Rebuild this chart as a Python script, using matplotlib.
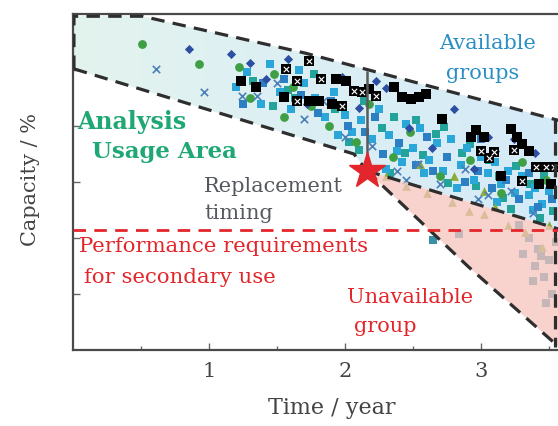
import numpy as np
import matplotlib.pyplot as plt
from matplotlib.patches import Polygon

# ---------------- data (time in years, capacity in %) ----------------
cyan_sq_x = [1.20, 1.28, 1.38, 1.45, 1.52, 1.60, 1.70, 1.78, 1.85, 1.92, 2.00, 2.05, 2.12, 2.20, 2.25,
             2.32, 2.38, 2.45, 2.50, 2.55, 2.62, 2.68, 2.72, 2.78, 2.85, 2.90, 2.95, 3.00, 3.05, 3.10,
             3.15, 3.20, 3.25, 3.30, 3.35, 3.40, 3.45, 3.50, 2.30, 2.58, 2.82, 3.12, 3.38, 1.66, 1.95, 2.42]
cyan_sq_y = [93.5, 94.8, 92.0, 95.5, 93.0, 91.5, 93.8, 92.5, 90.8, 93.0, 91.0, 89.5, 90.5, 88.8, 91.5,
             89.2, 87.8, 90.2, 88.0, 89.8, 87.0, 88.5, 86.0, 88.8, 86.5, 88.0, 85.2, 87.2, 85.8, 86.8,
             84.8, 86.0, 84.0, 85.5, 83.8, 84.5, 83.0, 84.2, 86.2, 85.8, 84.5, 83.2, 82.5, 95.0, 89.2, 86.8]

blue_sq_x = [1.25, 1.40, 1.55, 1.68, 1.80, 1.90, 2.02, 2.15, 2.28, 2.40, 2.52, 2.65, 2.75, 2.88, 2.98,
             3.08, 3.18, 3.28, 3.42, 3.52, 2.22, 2.60, 3.00, 3.35]
blue_sq_y = [92.0, 93.8, 94.2, 92.8, 91.2, 92.2, 90.0, 89.5, 87.5, 88.5, 86.5, 86.0, 87.2, 85.0, 86.0,
             84.5, 85.2, 83.5, 82.8, 83.5, 90.8, 89.0, 88.8, 85.8]

teal_x = [1.32, 1.47, 1.63, 1.77, 1.93, 2.03, 2.14, 2.27, 2.36, 2.44, 2.57, 2.67, 2.76, 2.86, 2.96,
          3.06, 3.16, 3.26, 3.36, 3.46, 3.53, 2.10, 2.52, 2.92, 3.22, 1.58, 2.33, 2.73, 3.13, 3.43]
teal_y = [94.0, 91.8, 92.5, 94.6, 91.5, 88.6, 92.2, 89.8, 90.8, 87.6, 87.4, 89.3, 84.9, 87.6, 84.6,
          87.0, 83.6, 86.4, 84.8, 85.6, 82.4, 87.9, 90.5, 88.4, 82.6, 93.2, 85.8, 89.9, 85.5, 81.8]

green_x = [0.51, 0.93, 1.22, 1.30, 1.48, 1.62, 1.75, 1.88, 2.08, 2.35, 2.48, 2.70, 2.92, 3.15, 3.30, 3.48,
           1.55, 2.18]
green_y = [97.3, 95.5, 95.3, 92.5, 94.6, 93.5, 91.8, 90.0, 88.6, 87.2, 89.5, 85.5, 87.0, 84.0, 86.8, 85.2,
           90.8, 92.0]

diamond_x = [0.85, 1.16, 1.30, 1.42, 1.58, 1.72, 1.98, 2.10, 2.23, 2.47, 2.64, 2.80, 2.95, 3.10, 3.24,
             3.40, 2.30, 3.05]
diamond_y = [96.9, 96.4, 95.6, 94.2, 96.0, 92.0, 94.4, 91.6, 94.0, 89.8, 88.0, 91.5, 86.2, 87.8, 88.8,
             87.6, 93.4, 89.0]

cross_x = [0.61, 0.96, 1.24, 1.35, 1.50, 1.70, 1.84, 2.00, 2.20, 2.38, 2.54, 2.70, 2.88, 3.05, 3.22,
           3.38, 2.45, 2.98]
cross_y = [95.1, 93.0, 92.7, 92.7, 93.8, 90.6, 92.2, 89.0, 88.2, 86.0, 86.6, 84.8, 86.2, 83.8, 84.2,
           82.2, 85.2, 83.5]

tri_x = [2.30, 2.45, 2.60, 2.79, 2.91, 3.02, 3.10, 3.20, 3.32, 3.45, 2.55, 2.80, 3.02, 3.50]
tri_y = [85.5, 84.6, 84.0, 83.2, 82.4, 82.1, 82.8, 81.2, 80.5, 79.2, 86.6, 85.5, 84.2, 81.2]

faded_x = [3.35, 3.42, 3.50, 3.28, 3.46, 3.52, 3.40, 3.31, 3.55, 2.84, 3.38, 3.48, 3.44, 2.65]
faded_y = [80.0, 79.0, 78.0, 81.2, 76.5, 75.0, 77.5, 78.6, 79.6, 80.4, 76.2, 74.2, 78.4, 79.8]

black_x = [1.235, 1.346, 1.551, 1.735, 1.809, 1.934, 2.007, 2.176, 2.360, 2.419, 2.485, 2.544, 2.596,
           1.904, 2.713, 2.963, 2.926, 3.022, 3.221, 3.265, 3.301, 3.353, 3.147, 3.426, 3.515]
black_y = [94.0, 93.5, 92.6, 92.2, 92.2, 94.2, 94.0, 93.3, 93.5, 92.6, 92.4, 92.6, 92.9,
           92.0, 90.6, 89.6, 89.0, 89.0, 89.7, 89.0, 88.4, 87.8, 85.5, 84.8, 84.8]

boxed_x = [1.566, 1.647, 1.735, 1.824, 1.647, 2.066, 2.125, 2.228, 1.978, 3.000, 3.096, 3.059, 3.243,
           3.301, 3.404, 3.478, 3.537]
boxed_y = [95.1, 94.0, 95.8, 94.2, 92.2, 93.1, 93.0, 92.7, 91.8, 87.8, 87.7, 87.1, 87.9,
           85.1, 86.3, 86.3, 86.3]

# region outlines
band_x = [0.0, 0.51, 1.71, 3.57, 3.57, 2.16, 2.066, 0.0]
band_y = [99.8, 99.8, 96.5, 90.5, 80.8, 86.0, 87.5, 95.1]
pink_x = [2.16, 3.57, 3.57, 2.91]
pink_y = [86.0, 80.8, 70.3, 77.4]

requirement = 80.7
replace_t, replace_cap = 2.16, 86.0

# ---------------- figure ----------------
fig = plt.figure(figsize=(5.58, 4.27), dpi=100)
ax = fig.add_axes([73 / 558, 76 / 427, 485 / 558, 336 / 427])
ax.set_xlim(0, 3.566)
ax.set_ylim(70, 100)

serif = "DejaVu Serif"

# band fill with a soft mint-to-blue gradient
band = Polygon(np.column_stack([band_x, band_y]), closed=True, facecolor="none", edgecolor="none")
ax.add_patch(band)
t = np.linspace(0, 1, 256)
c0 = np.array([0.89, 0.955, 0.935])
c1 = np.array([0.835, 0.918, 0.972])
grad = (c0[None, :] * (1 - t[:, None]) + c1[None, :] * t[:, None])[None, :, :]
im = ax.imshow(grad, extent=[0, 3.57, 70, 100], aspect="auto", zorder=0.5, origin="lower")
im.set_clip_path(band)

# scatter groups
ms = 40
ax.scatter(faded_x, faded_y, marker="s", s=ms, c="#3a8fa6", zorder=2, linewidths=0)
ax.scatter(teal_x, teal_y, marker="s", s=ms, c="#24a39a", zorder=2, linewidths=0)
ax.scatter(cyan_sq_x, cyan_sq_y, marker="s", s=ms, c="#2aa6d8", zorder=2, linewidths=0)
ax.scatter(blue_sq_x, blue_sq_y, marker="s", s=ms, c="#2b7fc2", zorder=2, linewidths=0)
ax.scatter(green_x, green_y, marker="o", s=ms, c="#3f9f45", zorder=2, linewidths=0)
ax.scatter(tri_x, tri_y, marker="^", s=ms, c="#8eaa3c", zorder=2, linewidths=0)
ax.scatter(diamond_x, diamond_y, marker="D", s=22, c="#2d4fa2", zorder=2.1, linewidths=0)
ax.scatter(cross_x, cross_y, marker="x", s=28, c="#4a7fb8", zorder=2.1, linewidths=1.2)
ax.scatter(black_x, black_y, marker="s", s=48, c="black", zorder=2.2, linewidths=0)
ax.scatter(boxed_x, boxed_y, marker="s", s=48, c="black", zorder=2.2, linewidths=0)
ax.scatter(boxed_x, boxed_y, marker="x", s=15, c="white", zorder=2.3, linewidths=0.8)

# unavailable region drawn over the points
pink = Polygon(np.column_stack([pink_x, pink_y]), closed=True, facecolor="#f6c4bd",
               edgecolor="none", alpha=0.75, zorder=3)
ax.add_patch(pink)

# dashed outlines
dash = dict(color="#2e2e2e", lw=2.3, dashes=(4.2, 2.6), zorder=4, solid_capstyle="butt")
ax.plot([0.007, 0.007, 0.51, 1.71, 3.57], [95.1, 99.8, 99.8, 96.5, 90.5], **dash)
ax.plot([0.007, 2.066, 2.16], [95.1, 87.5, 86.0], **dash)
ax.plot([2.16, 3.57], [86.0, 80.8], **dash)
ax.plot([2.16, 2.91, 3.57], [86.0, 77.4, 70.3], **dash)
ax.plot([3.545, 3.545], [90.5, 70.3], **dash)

# performance requirement line
ax.axhline(requirement, color="#e3262b", lw=2.0, dashes=(4.5, 3.0), zorder=4.5)

# replacement timing
ax.plot([replace_t, replace_t], [replace_cap + 0.6, 94.8], color="#5a5a5a", lw=1.8, zorder=4)
ax.plot([replace_t], [replace_cap], marker="*", ms=27, color="#e3262b", mec="#e3262b", zorder=5)

# labels inside the plot
ax.text(3.05, 97.5, "Available", color="#2a8fc5", fontsize=15, family=serif, ha="center", va="center", zorder=6)
ax.text(3.01, 94.8, "groups", color="#2a8fc5", fontsize=15, family=serif, ha="center", va="center", zorder=6)
ax.text(0.03, 90.45, "Analysis", color="#1fa774", fontsize=17, fontweight="bold", family=serif,
        ha="left", va="center", zorder=6)
ax.text(0.14, 87.75, "Usage Area", color="#1fa774", fontsize=16.5, fontweight="bold", family=serif,
        ha="left", va="center", zorder=6)
ax.text(0.963, 84.65, "Replacement", color="#55595f", fontsize=15, family=serif, ha="left", va="center", zorder=6)
ax.text(0.963, 82.3, "timing", color="#55595f", fontsize=15, family=serif, ha="left", va="center", zorder=6)
ax.text(0.044, 79.3, "Performance requirements", color="#e3262b", fontsize=15.3, family=serif,
        ha="left", va="center", zorder=6)
ax.text(0.08, 76.6, "for secondary use", color="#e3262b", fontsize=15.3, family=serif,
        ha="left", va="center", zorder=6)
ax.text(2.015, 74.8, "Unavailable", color="#e3262b", fontsize=15, family=serif, ha="left", va="center", zorder=6)
ax.text(2.066, 72.2, "group", color="#e3262b", fontsize=15, family=serif, ha="left", va="center", zorder=6)

# axes styling
for side in ("left", "bottom", "top"):
    ax.spines[side].set_color("#4a4a4a")
    ax.spines[side].set_linewidth(1.6)
ax.spines["right"].set_visible(False)

ax.set_xticks([1, 2, 3])
ax.set_xticks(np.arange(0.5, 3.6, 0.5), minor=True)
ax.set_xticklabels(["1", "2", "3"], family=serif, fontsize=15, color="#444444")
ax.set_yticks([75, 80, 85, 90, 95])
ax.set_yticklabels([])
ax.tick_params(axis="both", which="both", direction="in", length=5, width=1, color="#666666")
ax.tick_params(axis="x", which="major", pad=8)
ax.tick_params(axis="x", which="minor", length=3)

fig.text(30 / 558, 1 - 180 / 427, "Capacity / %", rotation=90, ha="center", va="center",
         family=serif, fontsize=15, color="#444444")
fig.text(332 / 558, 1 - 408 / 427, "Time / year", ha="center", va="center",
         family=serif, fontsize=16, color="#444444")

fig.savefig("out.png", dpi=100)
